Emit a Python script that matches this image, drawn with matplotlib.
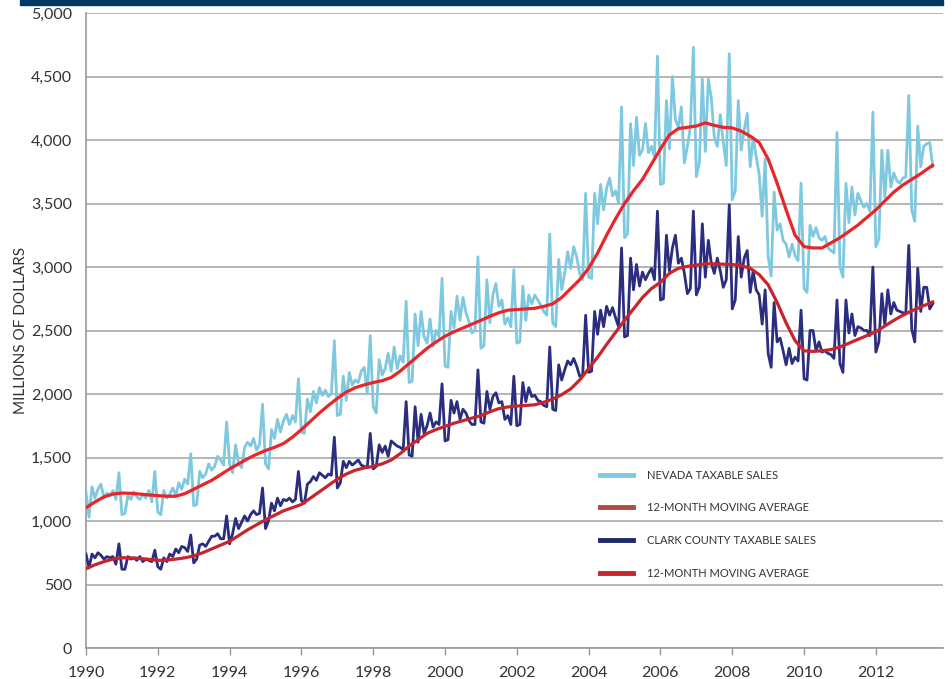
import numpy as np
import matplotlib
matplotlib.use("Agg")
import matplotlib.pyplot as plt
from matplotlib.lines import Line2D
from matplotlib.patches import Rectangle

plt.rcParams['font.family'] = ['Lato', 'DejaVu Sans']

# monthly taxable sales, millions of dollars, Jan 1990 - Aug 2013
nevada_sales = [
    1228, 1030, 1270, 1180, 1250, 1290, 1180, 1220, 1200, 1240, 1170, 1380,  # 1990
    1050, 1060, 1200, 1170, 1230, 1190, 1170, 1210, 1180, 1240, 1150, 1390,  # 1991
    1070, 1050, 1240, 1180, 1210, 1260, 1200, 1300, 1250, 1330, 1290, 1530,  # 1992
    1120, 1130, 1390, 1340, 1370, 1450, 1400, 1430, 1510, 1480, 1440, 1780,  # 1993
    1450, 1380, 1600, 1450, 1420, 1580, 1620, 1590, 1650, 1560, 1600, 1920,  # 1994
    1450, 1410, 1720, 1650, 1800, 1700, 1790, 1840, 1760, 1830, 1780, 2120,  # 1995
    1700, 1690, 1960, 1860, 2020, 1930, 2050, 1990, 2030, 1980, 2000, 2420,  # 1996
    1830, 1840, 2140, 1950, 2170, 2070, 2110, 2090, 2180, 2210, 2000, 2460,  # 1997
    1900, 1850, 2270, 2150, 2200, 2320, 2180, 2370, 2200, 2300, 2250, 2730,  # 1998
    2090, 2100, 2630, 2380, 2650, 2450, 2400, 2590, 2380, 2500, 2450, 2910,  # 1999
    2220, 2210, 2650, 2520, 2770, 2580, 2760, 2640, 2570, 2480, 2500, 3080,  # 2000
    2360, 2380, 2900, 2560, 2780, 2870, 2690, 2740, 2550, 2600, 2530, 2980,  # 2001
    2400, 2410, 2850, 2580, 2780, 2710, 2780, 2740, 2700, 2650, 2620, 3260,  # 2002
    2560, 2530, 3060, 2820, 2950, 3120, 2990, 3160, 3080, 2950, 2900, 3580,  # 2003
    2920, 2910, 3580, 3340, 3650, 3450, 3620, 3700, 3560, 3600, 3500, 4260,  # 2004
    3230, 3260, 4130, 3800, 4180, 3880, 3920, 4130, 3900, 3950, 3870, 4660,  # 2005
    3650, 3660, 4310, 3930, 4500, 4160, 4100, 4260, 3820, 3950, 4100, 4730,  # 2006
    3710, 3820, 4480, 3910, 4480, 4330, 4020, 3950, 4200, 3980, 3800, 4680,  # 2007
    3530, 3600, 4310, 3920, 4080, 4210, 3790, 4020, 3870, 3730, 3400, 3850,  # 2008
    3080, 2930, 3590, 3290, 3340, 3210, 3180, 3080, 3180, 3090, 3050, 3660,  # 2009
    2830, 2800, 3330, 3240, 3310, 3230, 3210, 3240, 3150, 3130, 3110, 4060,  # 2010
    3000, 2920, 3660, 3350, 3630, 3410, 3580, 3520, 3470, 3500, 3440, 4220,  # 2011
    3160, 3220, 3920, 3550, 3920, 3630, 3740, 3680, 3660, 3700, 3710, 4350,  # 2012
    3450, 3360, 4110, 3790, 3950, 3970, 3980, 3790,                          # 2013
]

clark_sales = [
    740, 630, 740, 710, 750, 730, 700, 720, 710, 720, 660, 820,  # 1990
    620, 620, 720, 700, 710, 690, 720, 680, 700, 690, 680, 770,  # 1991
    640, 620, 710, 680, 740, 720, 780, 750, 800, 790, 760, 890,  # 1992
    670, 700, 810, 820, 800, 840, 880, 880, 900, 860, 860, 1040,  # 1993
    820, 900, 1020, 940, 990, 1040, 1000, 1050, 1080, 1050, 1060, 1260,  # 1994
    940, 1000, 1140, 1080, 1180, 1120, 1170, 1160, 1180, 1150, 1170, 1390,  # 1995
    1160, 1140, 1290, 1310, 1350, 1320, 1380, 1360, 1340, 1370, 1360, 1660,  # 1996
    1260, 1300, 1470, 1420, 1470, 1440, 1460, 1480, 1440, 1430, 1420, 1690,  # 1997
    1410, 1430, 1600, 1540, 1590, 1510, 1630, 1610, 1590, 1580, 1560, 1940,  # 1998
    1520, 1510, 1900, 1620, 1840, 1690, 1750, 1850, 1740, 1780, 1760, 2080,  # 1999
    1630, 1640, 1950, 1850, 1940, 1800, 1880, 1850, 1790, 1760, 1760, 2190,  # 2000
    1780, 1770, 2020, 1880, 1980, 2010, 1930, 1940, 1800, 1830, 1760, 2140,  # 2001
    1750, 1760, 2090, 1940, 2050, 1980, 1990, 1950, 1940, 1910, 1900, 2370,  # 2002
    1880, 1870, 2230, 2110, 2190, 2260, 2230, 2280, 2220, 2140, 2150, 2620,  # 2003
    2170, 2180, 2650, 2470, 2660, 2530, 2690, 2620, 2680, 2600, 2530, 3150,  # 2004
    2450, 2460, 3070, 2820, 3020, 2850, 2960, 2900, 2950, 2990, 2900, 3440,  # 2005
    2740, 2750, 3250, 2970, 3150, 3250, 3030, 3070, 2950, 2790, 2830, 3440,  # 2006
    2780, 2840, 3340, 2920, 3210, 3030, 2950, 3070, 2970, 2840, 2900, 3490,  # 2007
    2670, 2740, 3240, 2920, 3070, 3130, 2800, 2970, 2820, 2780, 2550, 2820,  # 2008
    2320, 2210, 2720, 2410, 2440, 2340, 2230, 2360, 2240, 2290, 2260, 2660,  # 2009
    2120, 2110, 2500, 2500, 2340, 2410, 2330, 2340, 2320, 2310, 2280, 2740,  # 2010
    2240, 2170, 2740, 2480, 2630, 2460, 2530, 2520, 2500, 2500, 2460, 3000,  # 2011
    2330, 2410, 2790, 2540, 2820, 2630, 2720, 2660, 2650, 2640, 2630, 3170,  # 2012
    2510, 2410, 2990, 2650, 2840, 2840, 2670, 2710,                          # 2013
]

# 12-month moving averages
ma_years = [1990.0, 1990.25, 1990.5, 1990.75, 1991.0, 1991.25, 1991.5, 1991.75,
            1992.0, 1992.25, 1992.5, 1992.75, 1993.0, 1993.25, 1993.5, 1993.75,
            1994.0, 1994.25, 1994.5, 1994.75, 1995.0, 1995.25, 1995.5, 1995.75,
            1996.0, 1996.25, 1996.5, 1996.75, 1997.0, 1997.25, 1997.5, 1997.75,
            1998.0, 1998.25, 1998.5, 1998.75, 1999.0, 1999.25, 1999.5, 1999.75,
            2000.0, 2000.25, 2000.5, 2000.75, 2001.0, 2001.25, 2001.5, 2001.75,
            2002.0, 2002.25, 2002.5, 2002.75, 2003.0, 2003.25, 2003.5, 2003.75,
            2004.0, 2004.25, 2004.5, 2004.75, 2005.0, 2005.25, 2005.5, 2005.75,
            2006.0, 2006.25, 2006.5, 2006.75, 2007.0, 2007.25, 2007.5, 2007.75,
            2008.0, 2008.25, 2008.5, 2008.75, 2009.0, 2009.25, 2009.5, 2009.75,
            2010.0, 2010.25, 2010.5, 2010.75, 2011.0, 2011.25, 2011.5, 2011.75,
            2012.0, 2012.25, 2012.5, 2012.75, 2013.0, 2013.25, 2013.58]
nevada_ma = [1105, 1150, 1190, 1212, 1220, 1218, 1212, 1205,
             1200, 1195, 1195, 1215, 1250, 1285, 1320, 1365,
             1410, 1450, 1490, 1525, 1555, 1580, 1610, 1660,
             1720, 1785, 1850, 1910, 1965, 2015, 2050, 2072,
             2090, 2105, 2130, 2180, 2240, 2300, 2360, 2410,
             2455, 2490, 2520, 2550, 2580, 2612, 2640, 2660,
             2665, 2670, 2675, 2690, 2710, 2760, 2830, 2900,
             2990, 3110, 3250, 3380, 3500, 3600, 3690, 3810,
             3930, 4040, 4090, 4100, 4110, 4135, 4115, 4100,
             4095, 4070, 4030, 3980, 3850, 3660, 3450, 3250,
             3160, 3150, 3150, 3190, 3230, 3280, 3330, 3390,
             3450, 3520, 3590, 3645, 3690, 3735, 3800]
clark_ma = [625, 655, 680, 700, 710, 710, 705, 698,
            690, 692, 700, 710, 725, 750, 780, 810,
            840, 885, 930, 970, 1010, 1045, 1080, 1105,
            1130, 1180, 1230, 1280, 1330, 1370, 1400, 1418,
            1430, 1450, 1480, 1530, 1590, 1640, 1690, 1720,
            1745, 1770, 1790, 1810, 1830, 1860, 1885, 1898,
            1905, 1910, 1915, 1935, 1960, 1995, 2040, 2110,
            2200, 2290, 2390, 2485, 2580, 2670, 2760, 2830,
            2880, 2950, 2990, 3005, 3015, 3025, 3025, 3022,
            3020, 3010, 2990, 2940, 2860, 2720, 2560, 2420,
            2340, 2335, 2340, 2350, 2370, 2400, 2430, 2460,
            2490, 2535, 2580, 2620, 2655, 2685, 2725]

year_ticks = [1990, 1992, 1994, 1996, 1998, 2000, 2002, 2004, 2006, 2008, 2010, 2012]
value_ticks = [0, 500, 1000, 1500, 2000, 2500, 3000, 3500, 4000, 4500, 5000]

months = 1990 + np.arange(len(nevada_sales)) / 12.0

fig = plt.figure(figsize=(9.53, 6.79), dpi=100)
ax = fig.add_axes([86 / 953, 1 - 648 / 679, (943 - 86) / 953, (648 - 13) / 679])

# banner across the top
fig.patches.append(Rectangle((20 / 953, 1 - 5 / 679), (943 - 20) / 953, 5 / 679,
                             transform=fig.transFigure, color="#003764", zorder=0))

ax.plot(months, nevada_sales, color="#7ec8e0", lw=2.0, zorder=3)
ax.plot(ma_years, nevada_ma, color="#e8262a", lw=2.3, zorder=4)
ax.plot(months, clark_sales, color="#2b2d7e", lw=2.0, zorder=3)
ax.plot(ma_years, clark_ma, color="#c8242b", lw=2.3, zorder=4)

ax.set_xlim(1990, 2013.87)
ax.set_ylim(0, 5000)
ax.set_xticks(year_ticks)
ax.set_xticklabels([str(y) for y in year_ticks])
ax.set_yticks(value_ticks)
ax.set_yticklabels([f"{v:,}" for v in value_ticks])
ax.tick_params(axis="y", length=0, pad=10, labelsize=11.5, labelcolor="#333333")
ax.tick_params(axis="x", length=5, width=1, color="#999999", pad=8,
               labelsize=11.5, labelcolor="#333333")
ax.yaxis.grid(True, color="#b0b0b0", lw=1.3)
ax.set_axisbelow(True)
for side in ["top", "right"]:
    ax.spines[side].set_visible(False)
for side in ["left", "bottom"]:
    ax.spines[side].set_color("#999999")
    ax.spines[side].set_linewidth(1.2)

ax.set_ylabel("MILLIONS OF DOLLARS", fontsize=11, color="#333333")
ax.yaxis.set_label_coords(-0.068, 0.5)

handles = [
    Line2D([], [], color="#7ec8e0", lw=3.5),
    Line2D([], [], color="#b04a45", lw=3.5),
    Line2D([], [], color="#1f2a6b", lw=3.5),
    Line2D([], [], color="#c8242b", lw=3.5),
]
labels = ["NEVADA TAXABLE SALES", "12-MONTH MOVING AVERAGE",
          "CLARK COUNTY TAXABLE SALES", "12-MONTH MOVING AVERAGE"]
leg = ax.legend(handles, labels, loc="upper left", bbox_to_anchor=(0.594, 0.288),
                frameon=False, fontsize=8, handlelength=3.0, handletextpad=1.3,
                labelspacing=1.95, borderaxespad=0)
for t in leg.get_texts():
    t.set_color("#333333")

fig.savefig("out.png", dpi=100)
